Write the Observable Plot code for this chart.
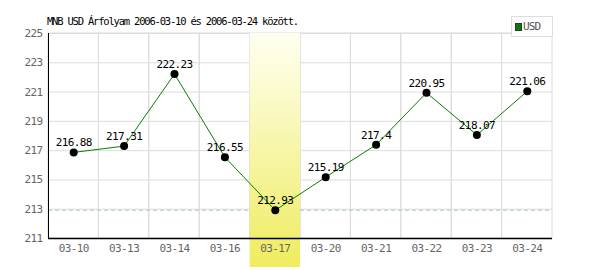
<!DOCTYPE html>
<html>
<head>
<meta charset="utf-8">
<script src="https://cdn.jsdelivr.net/npm/d3@7"></script>
<script src="https://cdn.jsdelivr.net/npm/@observablehq/plot@0.6"></script>
<style>
  html, body { margin: 0; padding: 0; background: #fff; }
  #wrap { position: relative; width: 600px; height: 270px; }
  #wrap svg text { letter-spacing: -0.6px; }
  #title { position: absolute; left: 47px; top: 15px; font: 10.5px "DejaVu Sans Mono", monospace; letter-spacing: -1.2px; line-height: 12px; color: #000; white-space: nowrap; }
  #legend { position: absolute; left: 511px; top: 16px; width: 40px; height: 19px; border: 1px solid #ddd; background: #fff; box-sizing: content-box; }
  #legend .sw { position: absolute; left: 3px; top: 6px; width: 5px; height: 6px; background: #008000; border: 1px solid #333; }
  #legend .lb { position: absolute; left: 11px; top: 3px; font: 11px "DejaVu Sans Mono", monospace; letter-spacing: -0.9px; color: #555; line-height: 13px; }
</style>
</head>
<body>
<div id="wrap">
  <div id="title"></div>
  <div id="legend"><div class="sw"></div><div class="lb"></div></div>
</div>
<script>
const titleText = "MNB USD Árfolyam 2006-03-10 és 2006-03-24 között.";
const seriesName = "USD";
const dates = ["03-10","03-13","03-14","03-16","03-17","03-20","03-21","03-22","03-23","03-24"];
const usd = [216.88, 217.31, 222.23, 216.55, 212.93, 215.19, 217.4, 220.95, 218.07, 221.06];
const yTicks = [211, 213, 215, 217, 219, 221, 223, 225];
const yDomain = [211, 225];
const highlighted = ["03-17"];

const data = dates.map((d, i) => ({date: d, value: usd[i]}));
const minValue = [d3.min(usd)];

document.getElementById("title").textContent = titleText;
document.querySelector("#legend .lb").textContent = seriesName;

const chart = Plot.plot({
  width: 600,
  height: 270,
  marginLeft: 48,
  marginRight: 48,
  marginTop: 33,
  marginBottom: 32,
  x: {type: "band", domain: dates, padding: 0, round: false, axis: null, label: null},
  y: {domain: yDomain, axis: null, label: null},
  style: {fontFamily: "DejaVu Sans Mono", fontSize: "11px", background: "white", overflow: "visible"},
  marks: [
    Plot.gridY(yTicks, {stroke: "#dcdcdc", strokeOpacity: 1}),
    Plot.barY(dates, {x: d => d, y1: () => yDomain[0], y2: () => yDomain[1], fill: "none", stroke: "#dcdcdc"}),
    Plot.ruleY(minValue, {stroke: "#a8cfa8", strokeDasharray: "4,3"}),
    Plot.barY(highlighted, {x: d => d, y1: () => yDomain[0], y2: () => yDomain[1], fill: "url(#hl)", insetBottom: -29}),
    Plot.axisY(yTicks, {tickSize: 0, tickPadding: 6, color: "#666", fontSize: 11, label: null}),
    Plot.axisX({tickSize: 0, tickPadding: 6, color: "#666", fontSize: 11, label: null}),
    Plot.frame({anchor: "left", stroke: "#000"}),
    Plot.ruleY([yDomain[0]], {stroke: "#000", strokeWidth: 1.5}),
    Plot.line(data, {x: "date", y: "value", stroke: "#008000", strokeWidth: 1}),
    Plot.dot(data, {x: "date", y: "value", r: 4, fill: "#000", stroke: "none"}),
    Plot.text(data, {x: "date", y: "value", text: d => String(d.value), dy: -6, lineAnchor: "bottom", fill: "#000", fontSize: 11})
  ]
});

const defs = d3.select(chart).insert("defs", ":first-child");
const grad = defs.append("linearGradient").attr("id", "hl").attr("x1", 0).attr("y1", 0).attr("x2", 0).attr("y2", 1);
grad.append("stop").attr("offset", 0).attr("stop-color", "#fffff2");
grad.append("stop").attr("offset", 1).attr("stop-color", "#efec5e");

document.getElementById("wrap").prepend(chart);
</script>
</body>
</html>
